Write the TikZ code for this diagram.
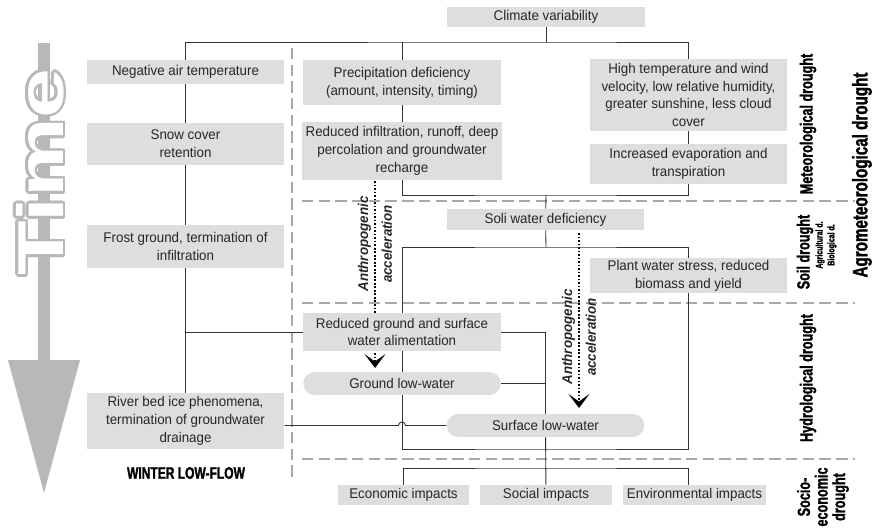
\documentclass[tikz,border=0pt]{standalone}
\usepackage{fontspec}
\usepackage{graphicx}
\setmainfont{Liberation Sans}[FakeStretch=0.95]
\newfontfamily\condfont{Liberation Sans}[FakeStretch=0.72, BoldFeatures={FakeBold=1.4}]
\usetikzlibrary{arrows.meta}
\definecolor{boxgray}{gray}{0.87}
\definecolor{sepgray}{gray}{0.66}
\definecolor{timegray}{gray}{0.72}
\definecolor{linegray}{gray}{0.2}
\newcommand\timeword{\scalebox{1.45}[1]{\fontsize{37}{37}\selectfont\bfseries Time}}

\begin{document}
\begin{tikzpicture}[
  x=0.02cm, y=-0.02cm,
  box/.style={fill=boxgray, minimum width=3.95cm, inner xsep=2pt, inner ysep=1pt, align=center, font=\fontsize{8}{10.2}\selectfont, text=black!85},
  lowwater/.style={box, rounded corners=6.5pt, minimum height=0.46cm},
  impact/.style={box, minimum height=0.4cm},
  link/.style={draw=linegray, line width=0.5pt},
  sepline/.style={draw=sepgray, line width=1.7pt, dash pattern=on 6.5pt off 3pt},
  anthro/.style={line width=1.6pt, dash pattern=on 1pt off 1pt, -{Stealth[length=2.8mm,width=4.2mm,inset=1.5mm]}},
  anthlabel/.style={rotate=90, align=center, font=\fontsize{8}{13.6}\selectfont\bfseries\itshape, text=black!85},
  zone/.style={rotate=90, align=center, font=\condfont\bfseries\fontsize{10}{10}\selectfont},
  timelabel/.style={rotate=90, inner sep=0pt}
]
  \useasboundingbox (0,0) rectangle (876,530);

  \fill[timegray] (38,43) rectangle (50,362);
  \fill[timegray] (8,360) -- (80,360) -- (44,493) -- cycle;
  \foreach \ang in {0,22.5,...,337.5}
    \node[timelabel, text=timegray] at ([shift={(\ang:1.5pt)}]40,172) {\timeword};
  \node[timelabel, text=white] (time) at (40,172) {\timeword};

  \draw[sepline] (292,48) -- (292,480);
  \draw[sepline] (302,201) -- (855,201);
  \draw[sepline] (302,303) -- (855,303);
  \draw[sepline] (302,459) -- (855,459);

  \coordinate (anthAtop) at (375,181);
  \coordinate (anthAend) at (375,368);
  \coordinate (anthBtop) at (579,233);
  \coordinate (anthBend) at (579,408);
  \draw[anthro] (anthAtop) -- (anthAend);
  \draw[anthro] (anthBtop) -- (anthBend);
  \node[anthlabel] (anthA) at (375,244) {Anthropogenic\\acceleration};
  \node[anthlabel] (anthB) at (579,337) {Anthropogenic\\acceleration};

  \node[box, minimum width=3.96cm, minimum height=0.4cm] (clim) at (546,17) {Climate variability};
  \node[box, minimum height=0.48cm] (negair) at (185.5,72) {Negative air temperature};
  \node[box, minimum height=0.84cm] (snow) at (185.5,144) {Snow cover\\retention};
  \node[box, minimum height=0.86cm] (frost) at (185.5,246.5) {Frost ground, termination of\\infiltration};
  \node[box, minimum height=1.12cm] (riverbed) at (185.5,421) {River bed ice phenomena,\\termination of groundwater\\drainage};
  \node[font=\condfont\bfseries\fontsize{9.5}{9.5}\selectfont] (winter) at (186,473) {WINTER LOW-FLOW};

  \node[box, minimum height=0.9cm] (precip) at (402,82.5) {Precipitation deficiency\\(amount, intensity, timing)};
  \node[box, minimum height=1.16cm] (redinf) at (402,151) {Reduced infiltration, runoff, deep\\percolation and groundwater\\recharge};
  \node[box, minimum height=1.44cm] (hightemp) at (688.5,95) {High temperature and wind\\velocity, low relative humidity,\\greater sunshine, less cloud\\cover};
  \node[box, minimum height=0.8cm] (evap) at (688.5,164) {Increased evaporation and\\transpiration};
  \node[box, minimum height=0.42cm] (soil) at (545.5,219.5) {Soli water deficiency};
  \node[box, minimum height=0.7cm] (plant) at (688.5,275.5) {Plant water stress, reduced\\biomass and yield};
  \node[box, minimum height=0.76cm] (redgrnd) at (402,332) {Reduced ground and surface\\water alimentation};
  \node[lowwater] (grndlow) at (402,383.5) {Ground low-water};
  \node[lowwater] (surflow) at (545.5,425.5) {Surface low-water};
  \node[impact, minimum width=2.62cm] (econ) at (403.5,495) {Economic impacts};
  \node[impact, minimum width=2.64cm] (social) at (546,495) {Social impacts};
  \node[impact, minimum width=2.78cm] (env) at (694.5,495) {Environmental impacts};

  \node[zone] (meteo) at (808,124) {Meteorological drought};
  \node[zone, font=\condfont\bfseries\fontsize{12}{12}\selectfont] (agro) at (862,175) {Agrometeorological drought};
  \node[zone] (soildr) at (805,252) {Soil drought};
  \node[zone, font=\condfont\bfseries\fontsize{5.5}{6.8}\selectfont] (soilsub) at (826,245) {Agricultural d.\\Biological d.};
  \node[zone] (hydro) at (808,378) {Hydrological drought};
  \node[zone] (socio) at (823,497) {Socio-\\economic\\drought};

  \coordinate (topbar) at (546,42);
  \coordinate (midbar) at (546,195);
  \coordinate (soilbar) at (546,247);
  \coordinate (botbar) at (546,449);
  \coordinate (impbar) at (546,468);
  \coordinate (envtop) at (688,485);
  \coordinate (hop) at (402,425.5);

  \draw[link] (clim) -- (topbar);
  \draw[link] (negair.north) |- (topbar) -| (hightemp.north);
  \draw[link] (precip.north) -- (precip.north |- topbar);
  \draw[link] (negair) -- (snow);
  \draw[link] (snow) -- (frost);
  \draw[link] (frost) -- (riverbed);
  \draw[link] (redgrnd.west) -- (redgrnd.west -| frost.south);
  \draw[link] (riverbed.east |- surflow.west) -- ([xshift=-2pt]hop) arc[start angle=180, end angle=0, radius=2pt] -- (surflow.west);
  \draw[link] (precip) -- (redinf);
  \draw[link] (hightemp) -- (evap);
  \draw[link] (redinf.south) |- (midbar) -| (evap.south);
  \draw[link] (midbar) -- (soil);
  \draw[link] (soil) -- (soilbar);
  \draw[link] (redgrnd.north) |- (soilbar) -| (plant.north);
  \draw[link] (redgrnd) -- (grndlow);
  \draw[link] (grndlow.south) |- (botbar) -| (plant.south);
  \draw[link] (redgrnd.east) -| (surflow.north);
  \draw[link] (grndlow.east) -- (grndlow.east -| surflow.north);
  \draw[link] (surflow) -- (social);
  \draw[link] (econ.north) |- (impbar) -| (envtop);
\end{tikzpicture}
\end{document}
